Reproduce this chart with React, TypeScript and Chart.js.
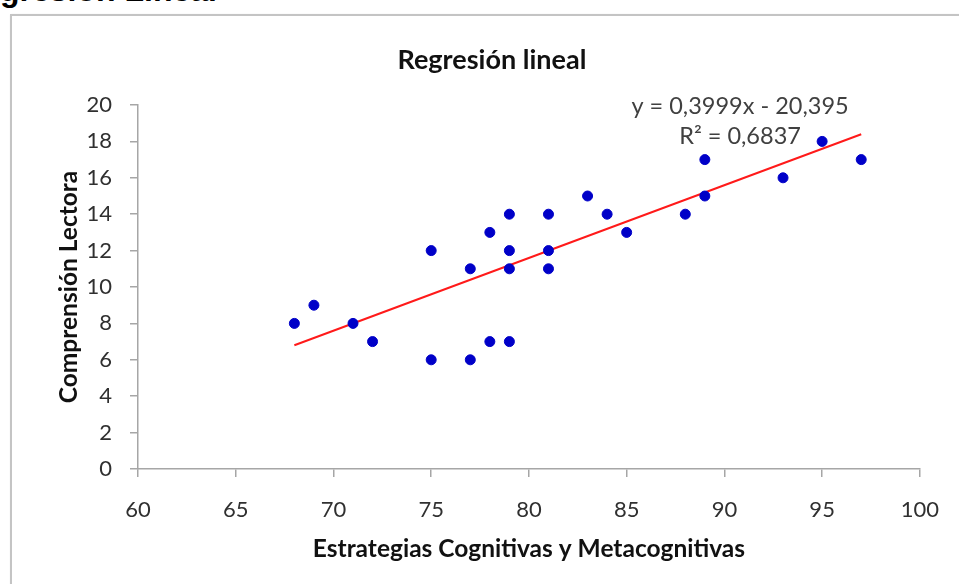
import React, { useEffect, useRef } from "react";
import { Chart, registerables } from "chart.js";

Chart.register(...registerables);

const estrategias = [68, 69, 71, 72, 75, 75, 77, 77, 78, 78, 79, 79, 79, 79, 81, 81, 81, 83, 84, 85, 88, 89, 89, 93, 95, 97];
const comprension = [8, 9, 8, 7, 12, 6, 11, 6, 13, 7, 14, 12, 11, 7, 14, 12, 11, 15, 14, 13, 14, 17, 15, 16, 18, 17];
const trendSlope = 0.3999;
const trendIntercept = -20.395;
const trendRange = [68, 97];
const xLimits = [60, 100];
const xStep = 5;
const yLimits = [0, 20];
const yStep = 2;
const chartTitle = "Regresión lineal";
const xTitle = "Estrategias Cognitivas y Metacognitivas";
const yTitle = "Comprensión Lectora";
const equationLines = ["y = 0,3999x - 20,395", "R² = 0,6837"];
const equationX = 90.8;
const pageHeading = "gresión Lineal";

const FONT = "Lato, Calibri, 'Open Sans', sans-serif";

const textPlugin = {
  id: "textPlugin",
  afterDraw(chart: any) {
    const { ctx, chartArea, scales } = chart;
    ctx.save();
    ctx.textAlign = "center";
    ctx.textBaseline = "middle";
    ctx.fillStyle = "#111111";
    ctx.font = `bold 27px ${FONT}`;
    ctx.fillText(chartTitle, (chartArea.left + chartArea.right) / 2 - 37, chartArea.top - 45);
    ctx.fillStyle = "#404040";
    ctx.font = `23.5px ${FONT}`;
    const ex = scales.x.getPixelForValue(equationX);
    ctx.fillText(equationLines[0], ex, chartArea.top + 1);
    ctx.fillText(equationLines[1], ex, chartArea.top + 31);
    ctx.restore();
  },
};

export default function App() {
  const canvasRef = useRef<HTMLCanvasElement | null>(null);

  useEffect(() => {
    if (!canvasRef.current) return;
    const points = estrategias.map((x, i) => ({ x, y: comprension[i] }));
    const trend = trendRange.map((x) => ({ x, y: trendSlope * x + trendIntercept }));
    const axisColor = "#a6a6a6";
    const tickFont = { family: FONT, size: 22 };
    const titleFont = { family: FONT, size: 24.5, weight: "bold" as const };

    const chart = new Chart(canvasRef.current, {
      type: "scatter",
      data: {
        datasets: [
          {
            label: "Datos",
            data: points,
            backgroundColor: "#0000c8",
            borderColor: "#0000c8",
            pointRadius: 5,
            pointHoverRadius: 5,
            order: 1,
          },
          {
            label: "Tendencia",
            type: "line" as any,
            data: trend,
            borderColor: "#ff1a1a",
            borderWidth: 2,
            pointRadius: 0,
            showLine: true,
            fill: false,
            order: 2,
          },
        ],
      },
      options: {
        responsive: false,
        animation: false,
        events: [],
        layout: { padding: { left: 20, top: 105, right: 37, bottom: 0 } },
        plugins: {
          legend: { display: false },
          tooltip: { enabled: false },
          title: { display: false },
        },
        scales: {
          x: {
            type: "linear",
            min: xLimits[0],
            max: xLimits[1],
            ticks: { stepSize: xStep, font: tickFont, color: "#303030", padding: 20, maxRotation: 0 },
            grid: { drawOnChartArea: false, drawTicks: true, tickLength: 8, color: axisColor, lineWidth: 1.5 },
            border: { display: true, color: axisColor, width: 1.5 },
            title: { display: true, text: xTitle, font: titleFont, color: "#111111", padding: { top: 0, bottom: 20 } },
            afterFit(scale: any) {
              scale.height = 115;
            },
          },
          y: {
            type: "linear",
            min: yLimits[0],
            max: yLimits[1],
            ticks: { stepSize: yStep, font: tickFont, color: "#303030", padding: 18 },
            grid: { drawOnChartArea: false, drawTicks: true, tickLength: 8, color: axisColor, lineWidth: 1.5 },
            border: { display: true, color: axisColor, width: 1.5 },
            title: { display: true, text: yTitle, font: titleFont, color: "#111111", padding: { top: 34, bottom: 0 } },
            afterFit(scale: any) {
              scale.width = 118;
            },
          },
        },
      },
      plugins: [textPlugin],
    });
    return () => chart.destroy();
  }, []);

  return (
    <div style={{ position: "absolute", left: 0, top: 0, width: 959, height: 584, overflow: "hidden", background: "#ffffff" }}>
      <div
        style={{
          position: "absolute",
          left: 0,
          top: -26,
          fontFamily: "'Liberation Sans', Arial, sans-serif",
          fontWeight: "bold",
          fontSize: 32,
          lineHeight: "32px",
          color: "#000000",
          whiteSpace: "nowrap",
        }}
      >
        {pageHeading}
      </div>
      <div
        style={{
          position: "absolute",
          left: 10,
          top: 14,
          width: 1000,
          height: 700,
          border: "2px solid #c4c4c4",
          boxShadow: "1px 1px 2px rgba(0,0,0,0.25)",
          background: "#ffffff",
        }}
      />
      <canvas
        ref={canvasRef}
        width={959}
        height={584}
        style={{ position: "absolute", left: 0, top: 0, width: 959, height: 584 }}
      />
    </div>
  );
}
